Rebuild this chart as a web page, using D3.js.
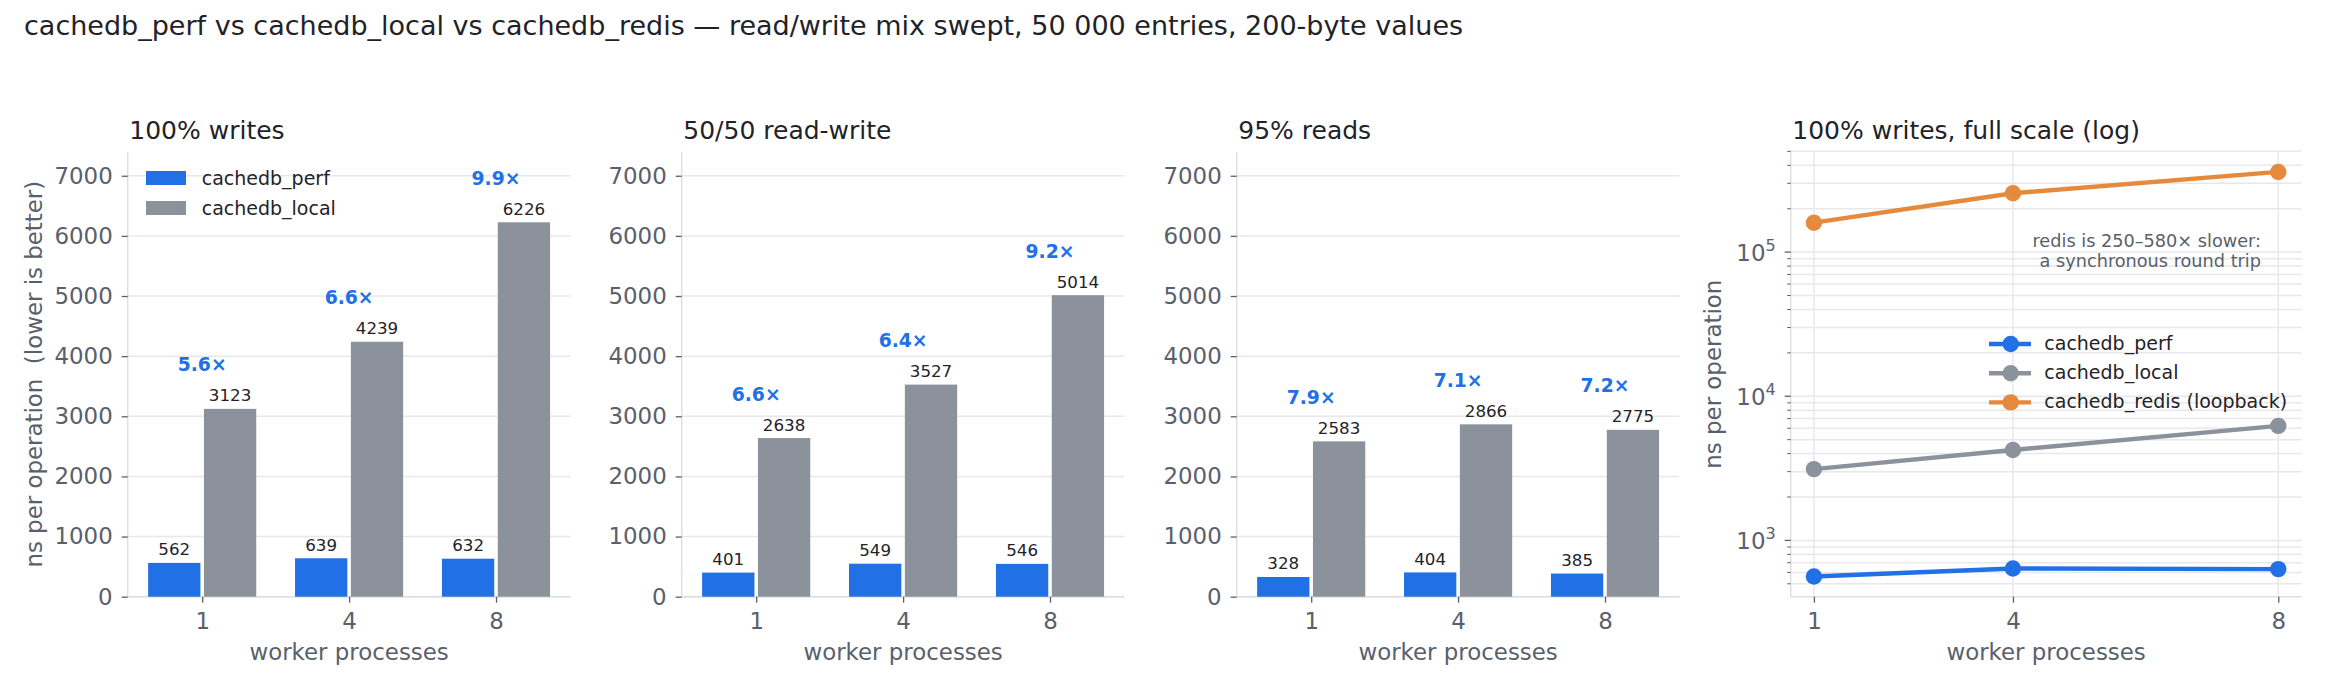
<!DOCTYPE html>
<html>
<head>
<meta charset="utf-8">
<script src="https://cdn.jsdelivr.net/npm/d3@7"></script>
<style>
  body { margin: 0; background: #fff; }
  svg { display: block; font-family: "DejaVu Sans", sans-serif; }
</style>
</head>
<body>
<div id="chart"></div>
<script>
// values
const workers = [1, 4, 8];
const mixTitles = ["100% writes", "50/50 read-write", "95% reads"];
const perfNs = [[562, 639, 632], [401, 549, 546], [328, 404, 385]];
const localNs = [[3123, 4239, 6226], [2638, 3527, 5014], [2583, 2866, 2775]];
const redisWriteNs = [160000, 256000, 360000];
const barTicks = [0, 1000, 2000, 3000, 4000, 5000, 6000, 7000];
const seriesNames = ["cachedb_perf", "cachedb_local", "cachedb_redis (loopback)"];

const colors = { perf: "#2170e6", local: "#8b929c", redis: "#e58a3c" };
const gridColor = "#e6e8ec";
const spineColor = "#dcdfe4";
const tickColor = "#59606b";
const textDark = "#1f2328";

const W = 2325, H = 690;
const plotTop = 151.7, plotBottom = 596.7;

const svg = d3.select("#chart").append("svg")
    .attr("width", W)
    .attr("height", H);

svg.append("text")
    .attr("x", 24)
    .attr("y", 35)
    .attr("font-size", 27)
    .attr("fill", textDark)
    .text("cachedb_perf vs cachedb_local vs cachedb_redis — read/write mix swept, 50 000 entries, 200-byte values");

function styleAxis(g) {
    g.select(".domain").remove();
    g.selectAll(".tick line").attr("stroke", tickColor).attr("stroke-width", 1.3);
    g.selectAll(".tick text").attr("fill", tickColor).attr("font-size", 22.9)
        .attr("font-family", "DejaVu Sans");
}

// ---- the three bar panels ----
const barLeft = [127.7, 681.7, 1236.7];
const barWidth = 442.8;

mixTitles.forEach(function (title, p) {
    const x0 = barLeft[p], x1 = x0 + barWidth;
    const x = d3.scaleLinear().domain([-0.507, 2.507]).range([x0, x1]);
    const y = d3.scaleLinear().domain([0, 7400]).range([plotBottom, plotTop]);
    const g = svg.append("g");

    // horizontal grid
    g.selectAll(".grid").data(barTicks).enter().append("line")
        .attr("x1", x0).attr("x2", x1)
        .attr("y1", d => y(d)).attr("y2", d => y(d))
        .attr("stroke", gridColor).attr("stroke-width", 1.5);

    // spines
    g.append("line").attr("x1", x0).attr("x2", x0).attr("y1", plotTop).attr("y2", plotBottom)
        .attr("stroke", spineColor).attr("stroke-width", 1.5);
    g.append("line").attr("x1", x0).attr("x2", x1).attr("y1", plotBottom).attr("y2", plotBottom)
        .attr("stroke", spineColor).attr("stroke-width", 1.5);

    g.append("g").attr("transform", `translate(${x0},0)`)
        .call(d3.axisLeft(y).tickValues(barTicks).tickFormat(d3.format("d")).tickSize(6).tickPadding(9))
        .call(styleAxis);
    g.append("g").attr("transform", `translate(0,${plotBottom})`)
        .call(d3.axisBottom(x).tickValues([0, 1, 2]).tickFormat(i => workers[i]).tickSize(6).tickPadding(10))
        .call(styleAxis);

    const bw = x(0.356) - x(0);
    const off = 0.19;

    workers.forEach(function (w, i) {
        const pv = perfNs[p][i], lv = localNs[p][i];
        g.append("rect")
            .attr("x", x(i - off) - bw / 2).attr("width", bw)
            .attr("y", y(pv)).attr("height", y(0) - y(pv))
            .attr("fill", colors.perf);
        g.append("rect")
            .attr("x", x(i + off) - bw / 2).attr("width", bw)
            .attr("y", y(lv)).attr("height", y(0) - y(lv))
            .attr("fill", colors.local);

        g.append("text").attr("x", x(i - off)).attr("y", y(pv) - 7.5)
            .attr("text-anchor", "middle").attr("font-size", 16.7).attr("fill", textDark)
            .text(pv);
        g.append("text").attr("x", x(i + off)).attr("y", y(lv) - 7.5)
            .attr("text-anchor", "middle").attr("font-size", 16.7).attr("fill", textDark)
            .text(lv);

        g.append("text").attr("x", x(i)).attr("y", y(lv) - 37.5)
            .attr("text-anchor", "middle").attr("font-size", 18.75).attr("font-weight", "bold")
            .attr("fill", colors.perf)
            .text((lv / pv).toFixed(1) + "×");
    });

    g.append("text").attr("x", x0 + 1.6).attr("y", 139.3)
        .attr("font-size", 25).attr("fill", textDark).text(title);

    g.append("text")
        .attr("x", (x0 + x1) / 2).attr("y", 660)
        .attr("text-anchor", "middle").attr("font-size", 22.9).attr("fill", tickColor)
        .text("worker processes");

    if (p === 0) {
        g.append("text")
            .attr("transform", `translate(41.5,${(plotTop + plotBottom) / 2}) rotate(-90)`)
            .attr("text-anchor", "middle").attr("font-size", 22.9).attr("fill", tickColor)
            .attr("xml:space", "preserve")
            .style("white-space", "pre")
            .text("ns per operation  (lower is better)");

        [["perf", seriesNames[0]], ["local", seriesNames[1]]].forEach(function (d, k) {
            const cy = 178 + k * 30;
            g.append("rect").attr("x", 146).attr("y", cy - 7).attr("width", 40).attr("height", 14)
                .attr("fill", colors[d[0]]);
            g.append("text").attr("x", 201.7).attr("y", cy).attr("dy", "0.35em")
                .attr("font-size", 19).attr("fill", textDark).text(d[1]);
        });
    }
});

// ---- log panel: 100% writes incl. redis ----
(function () {
    const x0 = 1790.7, x1 = 2301.5;
    const x = d3.scaleLinear().domain([0.65, 8.35]).range([x0, x1]);

    const all = perfNs[0].concat(localNs[0], redisWriteNs);
    const lo = Math.log10(d3.min(all)), hi = Math.log10(d3.max(all));
    const pad = 0.05 * (hi - lo);
    const y = d3.scaleLog().domain([Math.pow(10, lo - pad), Math.pow(10, hi + pad)]).range([plotBottom, plotTop]);
    const [dmin, dmax] = y.domain();

    const majors = [1e3, 1e4, 1e5];
    const minors = [];
    for (let e = 2; e <= 5; e++) {
        for (let k = 2; k <= 9; k++) {
            const v = k * Math.pow(10, e);
            if (v >= dmin && v <= dmax * 1.01) minors.push(v);
        }
    }

    const g = svg.append("g");

    g.selectAll(".hgrid").data(majors.concat(minors)).enter().append("line")
        .attr("x1", x0).attr("x2", x1)
        .attr("y1", d => y(d)).attr("y2", d => y(d))
        .attr("stroke", gridColor).attr("stroke-width", 1.5);
    g.selectAll(".vgrid").data(workers).enter().append("line")
        .attr("x1", d => x(d)).attr("x2", d => x(d))
        .attr("y1", plotTop).attr("y2", plotBottom)
        .attr("stroke", gridColor).attr("stroke-width", 1.5);

    g.append("line").attr("x1", x0).attr("x2", x0).attr("y1", plotTop).attr("y2", plotBottom)
        .attr("stroke", spineColor).attr("stroke-width", 1.5);
    g.append("line").attr("x1", x0).attr("x2", x1).attr("y1", plotBottom).attr("y2", plotBottom)
        .attr("stroke", spineColor).attr("stroke-width", 1.5);

    // minor ticks
    g.selectAll(".minor").data(minors).enter().append("line")
        .attr("x1", x0 - 3.5).attr("x2", x0)
        .attr("y1", d => y(d)).attr("y2", d => y(d))
        .attr("stroke", tickColor).attr("stroke-width", 1);
    // major ticks
    majors.forEach(function (v) {
        g.append("line").attr("x1", x0 - 6).attr("x2", x0)
            .attr("y1", y(v)).attr("y2", y(v))
            .attr("stroke", tickColor).attr("stroke-width", 1.3);
        const t = g.append("text").attr("x", x0 - 15).attr("y", y(v) + 8.5)
            .attr("text-anchor", "end").attr("font-size", 22.9).attr("fill", tickColor);
        t.append("tspan").text("10");
        t.append("tspan").attr("font-size", 16).attr("dy", -9.5).text(Math.round(Math.log10(v)));
    });

    g.append("g").attr("transform", `translate(0,${plotBottom})`)
        .call(d3.axisBottom(x).tickValues(workers).tickFormat(d3.format("d")).tickSize(6).tickPadding(10))
        .call(styleAxis);

    const series = [
        { key: "redis", vals: redisWriteNs },
        { key: "local", vals: localNs[0] },
        { key: "perf", vals: perfNs[0] }
    ];
    const line = d3.line().x(d => x(d[0])).y(d => y(d[1]));
    series.forEach(function (s) {
        const pts = workers.map((w, i) => [w, s.vals[i]]);
        g.append("path").attr("d", line(pts)).attr("fill", "none")
            .attr("stroke", colors[s.key]).attr("stroke-width", 4.4);
        g.selectAll(".pt-" + s.key).data(pts).enter().append("circle")
            .attr("cx", d => x(d[0])).attr("cy", d => y(d[1])).attr("r", 8.2)
            .attr("fill", colors[s.key]);
    });

    // legend
    ["perf", "local", "redis"].forEach(function (k, i) {
        const cy = 344 + i * 29.2;
        g.append("line").attr("x1", 1989).attr("x2", 2031).attr("y1", cy).attr("y2", cy)
            .attr("stroke", colors[k]).attr("stroke-width", 4.4);
        g.append("circle").attr("cx", 2010.7).attr("cy", cy).attr("r", 8.2).attr("fill", colors[k]);
        g.append("text").attr("x", 2044.3).attr("y", cy).attr("dy", "0.32em")
            .attr("font-size", 19).attr("fill", textDark).text(seriesNames[i]);
    });

    // annotation
    const note = g.append("text").attr("text-anchor", "end").attr("font-size", 17.7).attr("fill", tickColor);
    note.append("tspan").attr("x", 2261).attr("y", 246.7).text("redis is 250–580× slower:");
    note.append("tspan").attr("x", 2261).attr("y", 266.7).text("a synchronous round trip");

    g.append("text").attr("x", x0 + 1.6).attr("y", 138.8)
        .attr("font-size", 25).attr("fill", textDark).text("100% writes, full scale (log)");

    g.append("text")
        .attr("x", (x0 + x1) / 2).attr("y", 660)
        .attr("text-anchor", "middle").attr("font-size", 22.9).attr("fill", tickColor)
        .text("worker processes");

    g.append("text")
        .attr("transform", `translate(1721,${(plotTop + plotBottom) / 2}) rotate(-90)`)
        .attr("text-anchor", "middle").attr("font-size", 22.9).attr("fill", tickColor)
        .text("ns per operation");
})();
</script>
</body>
</html>
